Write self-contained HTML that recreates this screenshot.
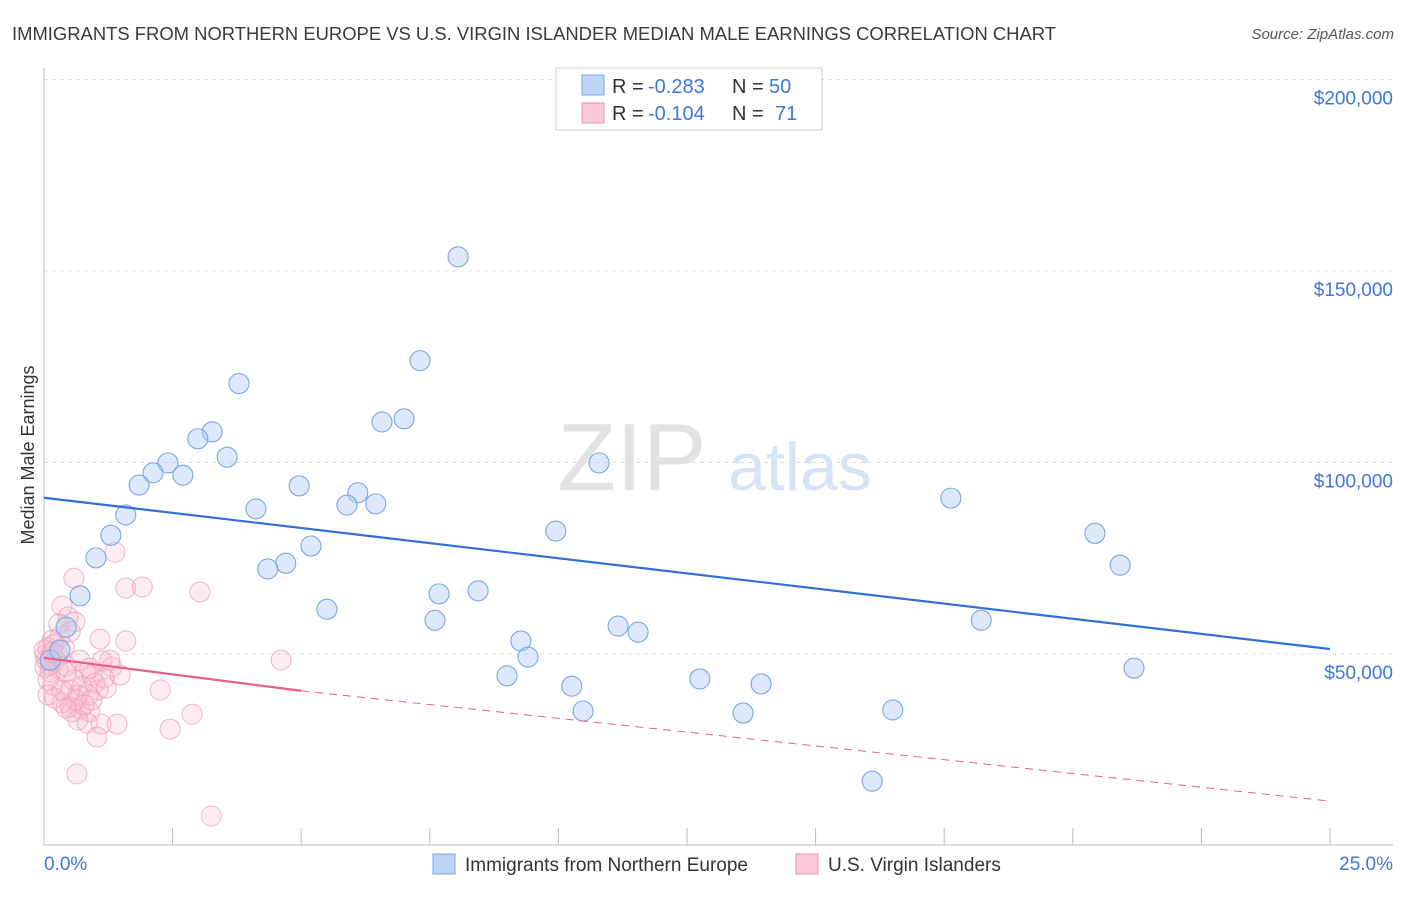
<!DOCTYPE html>
<html><head><meta charset="utf-8"><style>
body{margin:0;background:#fff;font-family:"Liberation Sans",sans-serif;}
svg text{font-family:"Liberation Sans",sans-serif;}
</style></head><body>
<svg id="chart" width="1406" height="892" xmlns="http://www.w3.org/2000/svg">
<text x="12" y="40" font-size="18" fill="#3a3a3a" textLength="1044" lengthAdjust="spacingAndGlyphs">IMMIGRANTS FROM NORTHERN EUROPE VS U.S. VIRGIN ISLANDER MEDIAN MALE EARNINGS CORRELATION CHART</text>
<text x="1394" y="39" font-size="15" fill="#555" text-anchor="end" font-style="italic">Source: ZipAtlas.com</text>
<text transform="translate(34,455) rotate(-90)" font-size="18" fill="#333" text-anchor="middle">Median Male Earnings</text>
<g>
<text x="632" y="490" font-size="96" fill="#e2e2e2" font-family="Liberation Serif" text-anchor="middle">ZIP</text>
<text x="800" y="490" font-size="68" fill="#d6e4f5" text-anchor="middle">atlas</text>
</g>
<g id="grid"></g>
<g id="axes"></g>
<g id="pink"></g>
<g id="blue"></g>
<g id="trends"></g>
<g>
<rect x="556" y="68" width="266" height="62" fill="#fff" fill-opacity="0.92" stroke="#ccc"/>
<rect x="582" y="75" width="22" height="20" fill="#bcd4f6" stroke="#7aa6e6"/>
<rect x="582" y="103" width="22" height="20" fill="#fbc9d8" stroke="#ee93b0"/>
<text x="612" y="93" font-size="20" fill="#333">R =</text>
<text x="648" y="93" font-size="20" fill="#3b78d8">-0.283</text>
<text x="732" y="93" font-size="20" fill="#333">N =</text>
<text x="769" y="93" font-size="20" fill="#3b78d8">50</text>
<text x="612" y="120" font-size="20" fill="#333">R =</text>
<text x="648" y="120" font-size="20" fill="#3b78d8">-0.104</text>
<text x="732" y="120" font-size="20" fill="#333">N =</text>
<text x="775" y="120" font-size="20" fill="#3b78d8">71</text>
</g>
<g>
<rect x="433" y="854" width="22" height="20" fill="#bcd4f6" stroke="#7aa6e6"/>
<text x="465" y="871" font-size="19" fill="#333">Immigrants from Northern Europe</text>
<rect x="796" y="854" width="22" height="20" fill="#fbc9d8" stroke="#ee93b0"/>
<text x="828" y="871" font-size="19" fill="#333">U.S. Virgin Islanders</text>
</g>
</svg>
<script>
const yTicks=[50000,100000,150000,200000];
const yTickLabels=["$50,000","$100,000","$150,000","$200,000"];
const xTickLabels=["0.0%","25.0%"];
const blueX=[8.05,7.31,3.79,7.00,6.57,3.27,2.99,3.56,2.41,2.12,2.70,10.79,1.85,4.96,6.10,5.89,6.45,4.12,1.59,17.63,9.95,20.43,1.30,5.19,1.01,20.92,4.70,4.35,7.68,8.44,0.70,5.50,0.43,7.60,18.22,11.16,11.55,9.27,9.41,21.19,9.00,12.75,10.26,13.94,10.48,13.59,16.50,16.10,0.12,0.31];
const blueY=[153.7,126.6,120.6,111.4,110.6,108.0,106.2,101.4,99.9,97.3,96.7,99.9,94.1,93.9,92.1,88.9,89.2,87.9,86.3,90.7,82.1,81.5,81.0,78.2,75.1,73.2,73.7,72.2,65.7,66.5,65.2,61.7,57.0,58.8,58.8,57.3,55.7,53.4,49.2,46.3,44.3,43.5,41.6,42.2,35.1,34.6,35.4,16.8,48.4,51.0];
const pinkX=[1.38,0.58,1.59,1.91,3.03,0.35,0.47,0.60,1.09,1.59,0.16,0.08,4.61,0.31,0.23,0.12,0.27,0.02,0.70,1.13,1.32,0.93,0.80,1.05,2.26,0.51,0.17,0.74,0.99,0.35,0.51,0.70,0.54,0.89,1.11,0.84,1.03,1.42,2.45,2.88,0.64,3.25,0.12,0.04,0.39,0.19,0.02,0.43,0.86,0.62,0.43,0.27,1.28,0.66,0.21,1.21,0.08,0.35,0.78,0.58,0.00,0.16,0.29,0.51,0.89,1.48,1.17,0.43,0.66,0.93,0.08];
const pinkY=[76.6,69.8,67.2,67.5,66.2,62.5,59.7,58.4,53.9,53.4,53.6,51.6,48.4,54.5,48.4,47.1,46.3,49.7,48.4,48.2,46.6,44.5,45.3,40.6,40.6,40.6,41.9,41.6,42.4,37.2,36.2,35.6,34.9,34.9,31.7,32.0,28.3,31.7,30.4,34.3,18.7,7.7,45.3,48.4,51.8,52.4,46.6,45.3,39.3,38.0,46.9,49.7,48.4,39.3,38.5,41.1,43.2,40.6,36.7,43.2,51.0,50.5,57.9,55.8,46.3,44.5,43.7,35.9,32.8,38.0,39.3];
const blueTrend=[[0,90.8],[25,51.3]];
const pinkTrend=[[0,49.0],[5,40.4],[25,11.6]];
const NS="http://www.w3.org/2000/svg";
const X0=44,X1=1330,Y0=845.5,PXK=191.5/50;
const sx=v=>X0+(v/25)*(X1-X0);
const sy=k=>Y0-k*PXK;
function mk(tag,attrs,parent){const e=document.createElementNS(NS,tag);for(const k in attrs)e.setAttribute(k,attrs[k]);parent.appendChild(e);return e;}
const grid=document.getElementById('grid'),axes=document.getElementById('axes');
yTicks.forEach((t,i)=>{
 const y=sy(t/1000);
 const l=mk('line',{x1:44,x2:1393,y1:y,y2:y,stroke:'#ddd','stroke-dasharray':'4,4'},grid);
 
 
 const tx=mk('text',{x:1393,y:y+25,'font-size':19,fill:'#3b78d8','text-anchor':'end'},axes);
 tx.textContent=yTickLabels[i];
 
 
});
const ax=mk('line',{x1:44,x2:44,y1:68,y2:845,stroke:'#bbb'},axes);


const bx=mk('line',{x1:44,x2:1393,y1:845,y2:845,stroke:'#bbb'},axes);


for(let i=0;i<=10;i++){
 const x=sx(i*2.5);
 const t=mk('line',{x1:x,x2:x,y1:828,y2:845,stroke:'#bbb'},axes);
 
 
}
[[0,'start'],[25,'end']].forEach((p,i)=>{
 const t=mk('text',{x:i?1393:44,y:870,'font-size':19,fill:'#3b78d8','text-anchor':p[1]},axes);
 t.textContent=xTickLabels[i];
 
 
});
const pg=document.getElementById('pink');
pinkX.forEach((v,i)=>{
 const c=mk('circle',{cx:sx(v),cy:sy(pinkY[i]),r:10,fill:'#f9b8cc','fill-opacity':0.25,stroke:'#f0a0ba','stroke-opacity':0.8,'stroke-width':1},pg);
 
 
});
const bg=document.getElementById('blue');
blueX.forEach((v,i)=>{
 const c=mk('circle',{cx:sx(v),cy:sy(blueY[i]),r:10,fill:'#b4cff4','fill-opacity':0.45,stroke:'#7aa6e6','stroke-width':1.1},bg);
 
 
});
const tg=document.getElementById('trends');
const b=mk('line',{x1:sx(blueTrend[0][0]),y1:sy(blueTrend[0][1]),x2:sx(blueTrend[1][0]),y2:sy(blueTrend[1][1]),stroke:'#2f6fd6','stroke-width':2.2},tg);


const p1=mk('line',{x1:sx(pinkTrend[0][0]),y1:sy(pinkTrend[0][1]),x2:sx(pinkTrend[1][0]),y2:sy(pinkTrend[1][1]),stroke:'#e8608a','stroke-width':2.2},tg);


const p2=mk('line',{x1:sx(pinkTrend[1][0]),y1:sy(pinkTrend[1][1]),x2:sx(pinkTrend[2][0]),y2:sy(pinkTrend[2][1]),stroke:'#e8608a','stroke-width':1,'stroke-dasharray':'8,6'},tg);


</script>
</body></html>
